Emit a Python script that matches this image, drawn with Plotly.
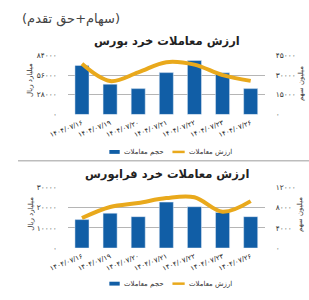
import plotly.graph_objects as go

# ---------------- data ----------------
dates = ["۱۴۰۴/۰۷/۱۶", "۱۴۰۴/۰۷/۱۹", "۱۴۰۴/۰۷/۲۰", "۱۴۰۴/۰۷/۲۱",
         "۱۴۰۴/۰۷/۲۲", "۱۴۰۴/۰۷/۲۳", "۱۴۰۴/۰۷/۲۶"]

# Bourse: volume (million shares, right axis) and value (billion rials, left axis)
bourse_volume = [37400, 23100, 19700, 31900, 41100, 31700, 19700]
bourse_value = [72000, 47500, 59900, 74400, 70900, 56000, 47800]

# Farabourse
fara_volume = [5650, 6920, 6230, 9120, 8210, 7060, 6230]
fara_value = [14900, 20400, 22400, 24800, 25200, 18000, 23300]

top_left_ticks = [0, 28000, 56000, 84000]
top_left_text = ["۰", "۲۸۰۰۰", "۵۶۰۰۰", "۸۴۰۰۰"]
top_right_ticks = [0, 15000, 30000, 45000]
top_right_text = ["۰", "۱۵۰۰۰", "۳۰۰۰۰", "۴۵۰۰۰"]
bot_left_ticks = [0, 10000, 20000, 30000]
bot_left_text = ["۰", "۱۰۰۰۰", "۲۰۰۰۰", "۳۰۰۰۰"]
bot_right_ticks = [0, 4000, 8000, 12000]
bot_right_text = ["۰", "۴۰۰۰", "۸۰۰۰", "۱۲۰۰۰"]

BAR = "#115EA6"
LINE = "#E9A91C"
FONT = "DejaVu Sans"
W, H = 309, 300

def px(x):
    return x / W

def py(y):
    return 1 - y / H

fig = go.Figure()

fig.add_trace(go.Bar(x=dates, y=bourse_volume, marker_color=BAR, xaxis="x", yaxis="y",
                     showlegend=False, name="حجم معاملات"))
fig.add_trace(go.Scatter(x=dates, y=bourse_value, mode="lines", line=dict(color=LINE, width=4, shape="spline"),
                         xaxis="x", yaxis="y2", showlegend=False, name="ارزش معاملات"))
fig.add_trace(go.Bar(x=dates, y=fara_volume, marker_color=BAR, xaxis="x2", yaxis="y3",
                     showlegend=False, name="حجم معاملات"))
fig.add_trace(go.Scatter(x=dates, y=fara_value, mode="lines", line=dict(color=LINE, width=4, shape="spline"),
                         xaxis="x2", yaxis="y4", showlegend=False, name="ارزش معاملات"))

xdom = [px(53), px(262)]
tickfont = dict(family=FONT, size=7.5, color="#333")
grid = "#B5B5B5"

common_x = dict(domain=xdom, type="category", tickangle=-22, tickfont=dict(family=FONT, size=7, color="#222"),
                showgrid=False, showline=False, zeroline=False, ticks="", ticklabelstandoff=2)

def yr(mx):
    return [-mx * 0.002, mx]

fig.update_layout(
    width=W, height=H, margin=dict(l=0, r=0, t=0, b=0),
    paper_bgcolor="white", plot_bgcolor="white",
    bargap=0.5,
    xaxis=dict(**common_x, anchor="y"),
    xaxis2=dict(**common_x, anchor="y3"),
    yaxis=dict(domain=[py(114), py(53)], range=yr(45000), side="right", anchor="x",
               tickvals=top_right_ticks, ticktext=top_right_text, tickfont=tickfont,
               showgrid=True, gridcolor=grid, gridwidth=1, zeroline=False,
               ticklabelstandoff=10),
    yaxis2=dict(range=yr(84000), overlaying="y", side="left", anchor="x",
                tickvals=top_left_ticks, ticktext=top_left_text, tickfont=tickfont,
                showgrid=False, zeroline=False, ticklabelstandoff=10),
    yaxis3=dict(domain=[py(251.7), py(189.3)], range=yr(12000), side="right", anchor="x2",
                tickvals=bot_right_ticks, ticktext=bot_right_text, tickfont=tickfont,
                showgrid=True, gridcolor=grid, gridwidth=1, zeroline=False,
                ticklabelstandoff=10),
    yaxis4=dict(range=yr(30000), overlaying="y3", side="left", anchor="x2",
                tickvals=bot_left_ticks, ticktext=bot_left_text, tickfont=tickfont,
                showgrid=False, zeroline=False, ticklabelstandoff=10),
)

ann = []
def text(x, y, t, size, color="#333", angle=0, xanchor="center", bold=False):
    ann.append(dict(x=px(x), y=py(y), xref="paper", yref="paper", text=("<b>%s</b>" % t) if bold else t,
                    showarrow=False, xanchor=xanchor, yanchor="middle", textangle=angle,
                    font=dict(family=FONT, size=size, color=color)))

text(2, 15, "(سهام+حق تقدم)", 13, color="#444", xanchor="left")
text(158, 39, "ارزش معاملات خرد بورس", 11.5, color="#222", bold=True)
text(158, 176, "ارزش معاملات خرد فرابورس", 11.5, color="#222", bold=True)
text(12, 78, "میلیارد ریال", 7, color="#333", angle=-90)
text(300, 82, "میلیون سهم", 7, color="#333", angle=-90)
text(13, 216, "میلیارد ریال", 7, color="#333", angle=-90)
text(300, 217, "میلیون سهم", 7, color="#333", angle=-90)

shapes = []
# separator
shapes.append(dict(type="line", xref="paper", yref="paper", x0=0, x1=1, y0=py(161.7), y1=py(161.7),
                   line=dict(color="#BDBDBD", width=1.5)))
for ly in (152.5, 288.3):
    shapes.append(dict(type="rect", xref="paper", yref="paper", x0=px(97), x1=px(108),
                       y0=py(ly + 2), y1=py(ly - 2), fillcolor=BAR, line=dict(width=0)))
    text(110, ly, "حجم معاملات", 7, color="#333", xanchor="left")
    shapes.append(dict(type="line", xref="paper", yref="paper", x0=px(164), x1=px(177),
                       y0=py(ly), y1=py(ly), line=dict(color=LINE, width=2.5)))
    text(179, ly, "ارزش معاملات", 7, color="#333", xanchor="left")

fig.update_layout(annotations=ann, shapes=shapes)
fig.write_html("out.html")
